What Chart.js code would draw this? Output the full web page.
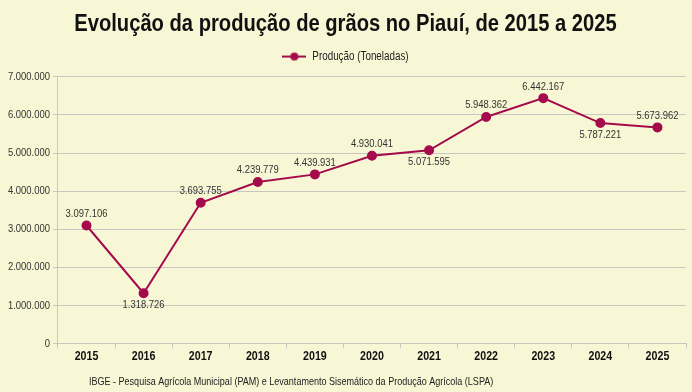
<!DOCTYPE html>
<html><head><meta charset="utf-8">
<script src="https://cdn.jsdelivr.net/npm/chart.js@4"></script>
<style>html,body{margin:0;padding:0;background:#f7f7d5;}#c{display:block;}</style>
</head><body>
<canvas id="c" width="692" height="392"></canvas>
<script>
const categories = ['2015','2016','2017','2018','2019','2020','2021','2022','2023','2024','2025'];
const production = [3097106,1318726,3693755,4239779,4439931,4930041,5071595,5948362,6442167,5787221,5673962];
const labelBelow = [false,true,false,false,false,false,true,false,false,true,false];
const yTicks = [0,1000000,2000000,3000000,4000000,5000000,6000000,7000000];
const titleText = 'Evolução da produção de grãos no Piauí, de 2015 a 2025';
const seriesName = 'Produção (Toneladas)';
const sourceText = 'IBGE - Pesquisa Agrícola Municipal (PAM) e Levantamento Sisemático da Produção Agrícola (LSPA)';

const FONT = "'Liberation Sans', Arial, sans-serif";
const LINE = '#a50b4c';
const GRID = '#c8c8c0';
const BG = '#f7f7d5';
const fmt = v => Math.round(v).toString().replace(/\B(?=(\d{3})+(?!\d))/g, '.');

// emulate a narrow face (Liberation Sans Narrow metrics = 0.82 x Liberation Sans)
const SX = 0.82;
(function(){
  const P = CanvasRenderingContext2D.prototype;
  const of = P.fillText, om = P.measureText;
  P.fillText = function(t, x, y, mw) {
    this.save(); this.translate(x, y); this.scale(SX, 1);
    if (mw === undefined) of.call(this, t, 0, 0); else of.call(this, t, 0, 0, mw / SX);
    this.restore();
  };
  P.measureText = function(t) {
    const m = om.call(this, t);
    return { width: m.width * SX,
      actualBoundingBoxAscent: m.actualBoundingBoxAscent,
      actualBoundingBoxDescent: m.actualBoundingBoxDescent,
      actualBoundingBoxLeft: m.actualBoundingBoxLeft * SX,
      actualBoundingBoxRight: m.actualBoundingBoxRight * SX,
      fontBoundingBoxAscent: m.fontBoundingBoxAscent,
      fontBoundingBoxDescent: m.fontBoundingBoxDescent };
  };
})();

// legend icon: line with dot
const icon = document.createElement('canvas');
icon.width = 24; icon.height = 10;
{ const g = icon.getContext('2d'); g.strokeStyle = LINE; g.lineWidth = 2;
  g.beginPath(); g.moveTo(0,5); g.lineTo(24,5); g.stroke();
  g.fillStyle = LINE; g.beginPath(); g.arc(12,5,4,0,Math.PI*2); g.fill(); }

const bgPlugin = {
  id: 'bg',
  beforeDraw(chart) {
    const c = chart.ctx; c.save(); c.fillStyle = BG;
    c.fillRect(0,0,chart.width,chart.height); c.restore();
  }
};
const labelPlugin = {
  id: 'vlabels',
  afterDatasetsDraw(chart) {
    const c = chart.ctx, meta = chart.getDatasetMeta(0);
    c.save(); c.font = '11.5px ' + FONT; c.fillStyle = '#333'; c.textAlign = 'center';
    meta.data.forEach((pt, i) => {
      const below = labelBelow[i];
      c.textBaseline = below ? 'top' : 'bottom';
      c.fillText(fmt(production[i]), pt.x, below ? pt.y + 6 : pt.y - 6);
    });
    c.restore();
  }
};
const footerPlugin = {
  id: 'footer',
  afterDraw(chart) {
    const c = chart.ctx; c.save(); c.font = '11px ' + FONT; c.fillStyle = '#222';
    c.textAlign = 'left'; c.textBaseline = 'middle';
    c.fillText(sourceText, 89, 382); c.restore();
  }
};

new Chart(document.getElementById('c'), {
  type: 'line',
  data: { labels: categories, datasets: [{
    label: seriesName, data: production, borderColor: LINE, backgroundColor: LINE,
    borderWidth: 2, pointRadius: 4, pointHoverRadius: 4, tension: 0, fill: false
  }]},
  options: {
    responsive: false, animation: false, devicePixelRatio: 1,
    layout: { padding: { left: 5, right: 6, top: 9, bottom: 28 } },
    plugins: {
      title: { display: true, text: titleText, color: '#111',
        font: { family: FONT, size: 24.6, weight: 'bold' }, padding: { top: 0, bottom: 2 } },
      subtitle: { display: true, text: '', weight: 500, font: { size: 2 }, padding: { top: 0, bottom: 2 } },
      legend: { display: true, labels: { usePointStyle: true, pointStyle: icon, pointStyleWidth: 24,
        color: '#222', font: { family: FONT, size: 12 }, padding: 10 } },
      tooltip: { enabled: false }
    },
    scales: {
      x: { offset: true,
        grid: { offset: true, drawOnChartArea: true, tickLength: 5, tickColor: GRID,
          color: ctx => ctx.index === categories.length ? GRID : 'rgba(0,0,0,0)' },
        border: { color: GRID },
        ticks: { color: '#111', font: { family: FONT, size: 13, weight: 'bold' }, padding: 0 } },
      y: { min: 0, max: 7000000,
        afterBuildTicks: s => { s.ticks = yTicks.map(v => ({ value: v })); },
        grid: { color: GRID, tickLength: 5 }, border: { color: GRID },
        ticks: { color: '#333', font: { family: FONT, size: 11.5 }, padding: 3, callback: v => fmt(v) } }
    }
  },
  plugins: [bgPlugin, labelPlugin, footerPlugin]
});
</script>
</body></html>
